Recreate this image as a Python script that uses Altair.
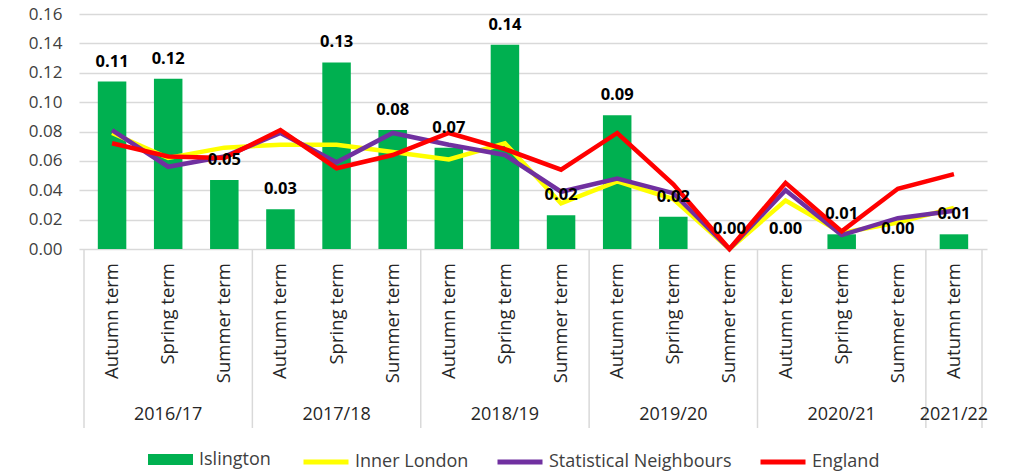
import altair as alt
import pandas as pd

# ---- data ----
years = ["2016/17"] * 3 + ["2017/18"] * 3 + ["2018/19"] * 3 + ["2019/20"] * 3 + ["2020/21"] * 3 + ["2021/22"]
terms = ["Autumn term", "Spring term", "Summer term"] * 5 + ["Autumn term"]
islington = [0.114, 0.116, 0.047, 0.027, 0.127, 0.081, 0.069, 0.139, 0.023, 0.091, 0.022, 0.0, 0.0, 0.010, 0.0, 0.010]
inner_london = [0.079, 0.062, 0.069, 0.071, 0.071, 0.066, 0.061, 0.072, 0.031, 0.046, 0.034, 0.0, 0.033, 0.011, 0.018, 0.028]
stat_neighbours = [0.081, 0.056, 0.063, 0.079, 0.059, 0.079, 0.071, 0.064, 0.039, 0.048, 0.038, 0.0, 0.040, 0.0095, 0.021, 0.026]
england = [0.072, 0.063, 0.062, 0.081, 0.055, 0.064, 0.079, 0.068, 0.054, 0.079, 0.044, 0.0, 0.045, 0.012, 0.041, 0.051]
y_ticks = [0.0, 0.02, 0.04, 0.06, 0.08, 0.10, 0.12, 0.14, 0.16]

line_series = ["Inner London", "Statistical Neighbours", "England"]
line_colors = ["#ffff00", "#7030a0", "#ff0000"]
bar_series = "Islington"
bar_color = "#00b050"

n = len(terms)
df = pd.DataFrame({
    "idx": list(range(n)), "year": years, "term": terms,
    "Islington": islington, "Inner London": inner_london,
    "Statistical Neighbours": stat_neighbours, "England": england,
})
df["series"] = bar_series
long = df.melt(id_vars=["idx", "year", "term"], value_vars=line_series,
               var_name="line", value_name="value")

grp = df.groupby("year", sort=False)["idx"]
year_df = pd.DataFrame({"year": grp.mean().index, "center": grp.mean().values})
bounds = sorted(set((grp.min() - 0.5).tolist()) | set((grp.max() + 0.5).tolist()))
sep_df = pd.DataFrame({"pos": bounds})

FONT = "Open Sans"
W, H = 908, 235

xscale = alt.Scale(domain=[-0.5, n - 0.5], nice=False, zero=False)
yscale = alt.Scale(domain=[0, 0.16], nice=False)
yaxis = alt.Axis(values=y_ticks, format=".2f", grid=True, gridColor="#d9d9d9",
                 gridWidth=1.5, domain=False, ticks=False, labelFont=FONT,
                 labelFontSize=17, labelColor="#404040", labelPadding=17,
                 labelOverlap=False, labelBound=False, title=None)


def X(field):
    return alt.X(field, scale=xscale, axis=None)


def Y(field):
    return alt.Y(field, scale=yscale, axis=yaxis)


bars = alt.Chart(df).mark_bar(width=28.5).encode(
    x=X("idx:Q"),
    y=Y("Islington:Q"),
    color=alt.Color("series:N", scale=alt.Scale(domain=[bar_series], range=[bar_color]),
                    legend=alt.Legend(title=None, orient="none", legendX=69, legendY=423,
                                      symbolType="M-1,-0.24H1V0.24H-1Z", symbolSize=2025,
                                      symbolStrokeWidth=0, labelFont=FONT, labelFontSize=18,
                                      labelColor="#404040", labelOffset=6, padding=0)),
)

stroke_enc = alt.Stroke("line:N", scale=alt.Scale(domain=line_series, range=line_colors),
                        legend=alt.Legend(title=None, orient="none", legendX=222, legendY=423,
                                          direction="horizontal", columns=3, symbolType="stroke",
                                          symbolSize=2025, symbolStrokeWidth=5, labelFont=FONT,
                                          labelFontSize=18, labelColor="#404040", labelOffset=4,
                                          labelLimit=400, columnPadding=18, padding=0))

line_layers = [
    alt.Chart(long).transform_filter(alt.datum.line == s).mark_line(strokeWidth=4.5).encode(
        x=X("idx:Q"), y=Y("value:Q"), stroke=stroke_enc)
    for s in line_series
]

seps = alt.Chart(sep_df).mark_rule(color="#d9d9d9", strokeWidth=1.5).encode(
    x=X("pos:Q"), y=alt.value(H), y2=alt.value(H + 179))

term_labels = alt.Chart(df).mark_text(angle=270, align="right", baseline="middle", font=FONT,
                                      fontSize=18.5, color="#262626").encode(
    x=X("idx:Q"), y=alt.value(H + 14), text="term:N")

year_labels = alt.Chart(year_df).mark_text(baseline="middle", font=FONT, fontSize=18,
                                           color="#262626").encode(
    x=X("center:Q"), y=alt.value(H + 166), text="year:N")

value_labels = alt.Chart(df).mark_text(font=FONT, fontWeight="bold", fontSize=16.5, dy=-20,
                                       baseline="middle", color="#000000").encode(
    x=X("idx:Q"), y=Y("Islington:Q"),
    text=alt.Text("Islington:Q", format=".2f"))

chart = alt.layer(bars, seps, *line_layers, term_labels, year_labels, value_labels).properties(
    width=W, height=H,
    padding={"left": 71, "top": 6, "right": 16, "bottom": 222},
    autosize=alt.AutoSizeParams(type="none"),
    background="white",
).configure_view(stroke=None)

chart.save("out.html", embed_options={"renderer": "svg", "actions": False})
